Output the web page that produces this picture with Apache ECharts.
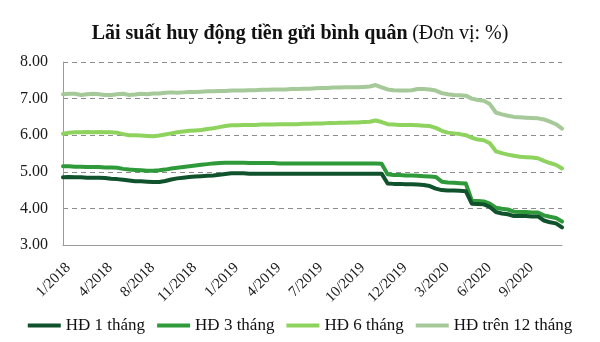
<!DOCTYPE html>
<html>
<head>
<meta charset="utf-8">
<script src="https://cdn.jsdelivr.net/npm/echarts@6/dist/echarts.min.js"></script>
<style>
  html, body { margin: 0; padding: 0; background: #fff; }
  #chart { width: 600px; height: 342px; }
</style>
</head>
<body>
<div id="chart"></div>
<script>
// Average deposit rates (%), one sample per period, Jan 2018 – late 2020
const tickLabels = ['1/2018', '4/2018', '8/2018', '11/2018', '1/2019', '4/2019',
  '7/2019', '10/2019', '12/2019', '3/2020', '6/2020', '9/2020'];
const labelStep = 7; // one tick label every 7 samples

const rate1m = [
  4.85, 4.86, 4.85, 4.85, 4.84, 4.84, 4.84, 4.83, 4.81, 4.80,
  4.78, 4.76, 4.74, 4.74, 4.73, 4.72, 4.72, 4.75, 4.79, 4.82,
  4.84, 4.86, 4.87, 4.88, 4.89, 4.90, 4.92, 4.94, 4.96,
  4.96, 4.96, 4.95, 4.95, 4.95, 4.95, 4.95, 4.95, 4.95, 4.95,
  4.95, 4.95, 4.95, 4.95, 4.95, 4.95, 4.95, 4.95, 4.95, 4.95,
  4.95, 4.95, 4.95, 4.95, 4.95,
  4.68, 4.67, 4.67, 4.66, 4.66, 4.65, 4.64, 4.61, 4.54, 4.50,
  4.49, 4.49, 4.48, 4.47, 4.13, 4.12, 4.11, 4.04, 3.90, 3.86,
  3.84, 3.79, 3.79, 3.79, 3.78, 3.78, 3.67, 3.62, 3.59, 3.48
];
const rate3m = [
  5.15, 5.15, 5.14, 5.14, 5.13, 5.13, 5.13, 5.12, 5.12, 5.11,
  5.08, 5.06, 5.05, 5.04, 5.03, 5.03, 5.04, 5.06, 5.09, 5.11,
  5.13, 5.15, 5.17, 5.19, 5.21, 5.23, 5.24, 5.25, 5.25, 5.25,
  5.25, 5.24, 5.24, 5.24, 5.24, 5.24, 5.23, 5.23, 5.23, 5.23,
  5.23, 5.23, 5.23, 5.23, 5.23, 5.23, 5.23, 5.23, 5.23, 5.23,
  5.23, 5.23, 5.23, 5.22,
  4.93, 4.91, 4.91, 4.90, 4.90, 4.89, 4.88, 4.87, 4.86, 4.73,
  4.71, 4.70, 4.69, 4.68, 4.21, 4.20, 4.19, 4.13, 4.02, 3.99,
  3.97, 3.91, 3.90, 3.90, 3.89, 3.89, 3.81, 3.77, 3.74, 3.64
];
const rate6m = [
  6.04, 6.07, 6.08, 6.08, 6.09, 6.08, 6.09, 6.08, 6.08, 6.07,
  6.03, 6.00, 6.00, 5.99, 5.98, 5.97, 5.99, 6.02, 6.05, 6.08,
  6.10, 6.12, 6.13, 6.14, 6.17, 6.19, 6.22, 6.25, 6.27, 6.27,
  6.28, 6.28, 6.28, 6.29, 6.29, 6.29, 6.30, 6.30, 6.30, 6.30,
  6.31, 6.31, 6.32, 6.32, 6.33, 6.33, 6.34, 6.34, 6.35, 6.35,
  6.36, 6.37, 6.40, 6.36,
  6.30, 6.29, 6.28, 6.28, 6.28, 6.27, 6.26, 6.25, 6.20, 6.12,
  6.07, 6.05, 6.03, 6.00, 5.93, 5.88, 5.86, 5.78, 5.56, 5.51,
  5.47, 5.44, 5.41, 5.40, 5.39, 5.37, 5.30, 5.24, 5.19, 5.09
];
const rate12m = [
  7.12, 7.13, 7.13, 7.10, 7.12, 7.13, 7.12, 7.10, 7.10, 7.12,
  7.13, 7.10, 7.11, 7.13, 7.12, 7.14, 7.14, 7.16, 7.17, 7.16,
  7.17, 7.18, 7.18, 7.19, 7.20, 7.20, 7.21, 7.21, 7.22, 7.22,
  7.22, 7.23, 7.23, 7.24, 7.24, 7.25, 7.25, 7.25, 7.26, 7.26,
  7.27, 7.27, 7.28, 7.29, 7.29, 7.30, 7.30, 7.31, 7.31, 7.31,
  7.32, 7.33, 7.37, 7.31,
  7.25, 7.23, 7.22, 7.22, 7.23, 7.26, 7.26, 7.25, 7.22, 7.15,
  7.12, 7.10, 7.09, 7.08, 7.00, 6.96, 6.94, 6.85, 6.62, 6.57,
  6.53, 6.50, 6.49, 6.48, 6.47, 6.46, 6.43, 6.37, 6.30, 6.18
];

const seriesNames = ['HĐ 1 tháng', 'HĐ 3 tháng', 'HĐ 6 tháng', 'HĐ trên 12 tháng'];
const seriesColors = ['#10522c', '#2f9a3a', '#8fd35f', '#a5c999'];
const seriesData = [rate1m, rate3m, rate6m, rate12m];

const categories = rate1m.map((_, i) => String(i));
const FONT = '"Liberation Serif", "Times New Roman", serif';

const chart = echarts.init(document.getElementById('chart'), null, { renderer: 'canvas' });

chart.setOption({
  animation: false,
  backgroundColor: '#ffffff',
  textStyle: { fontFamily: FONT, color: '#1a1a1a' },
  title: {
    text: '{b|Lãi suất huy động tiền gửi bình quân} {n|(Đơn vị: %)}',
    left: 'center',
    top: 19,
    textStyle: {
      rich: {
        b: { fontFamily: FONT, fontSize: 20, fontWeight: 'bold', color: '#111' },
        n: { fontFamily: FONT, fontSize: 20, fontWeight: 'normal', color: '#111' }
      }
    }
  },
  grid: { left: 63, right: 38, top: 62, bottom: 97, containLabel: false },
  legend: {
    bottom: 3,
    left: 'center',
    icon: 'rect',
    itemWidth: 33,
    itemHeight: 4,
    itemGap: 12,
    data: seriesNames,
    textStyle: { fontFamily: FONT, fontSize: 17, color: '#111' }
  },
  xAxis: {
    type: 'category',
    data: categories,
    boundaryGap: false,
    axisLine: { lineStyle: { color: '#9a9a9a', width: 1 } },
    axisTick: { show: false },
    axisLabel: {
      interval: labelStep - 1,
      rotate: 45,
      margin: 15,
      align: 'right',
      verticalAlign: 'top',
      fontFamily: FONT,
      fontSize: 15,
      color: '#1a1a1a',
      formatter: (v, i) => (i % labelStep === 0 ? (tickLabels[i / labelStep] || '') : '')
    },
    splitLine: { show: false }
  },
  yAxis: {
    type: 'value',
    min: 3,
    max: 8,
    interval: 1,
    axisLine: { show: true, lineStyle: { color: '#9a9a9a', width: 1 } },
    axisTick: { show: false },
    axisLabel: {
      margin: 15,
      fontFamily: FONT,
      fontSize: 16,
      color: '#1a1a1a',
      formatter: v => v.toFixed(2)
    },
    splitLine: { lineStyle: { color: '#8c8c8c', type: [5, 4], width: 1 } }
  },
  series: seriesNames.map((name, k) => ({
    name,
    type: 'line',
    data: seriesData[k],
    symbol: 'none',
    smooth: false,
    color: seriesColors[k],
    lineStyle: { width: 4, color: seriesColors[k], cap: 'round', join: 'round' },
    z: 10 - k
  }))
});
</script>
</body>
</html>
